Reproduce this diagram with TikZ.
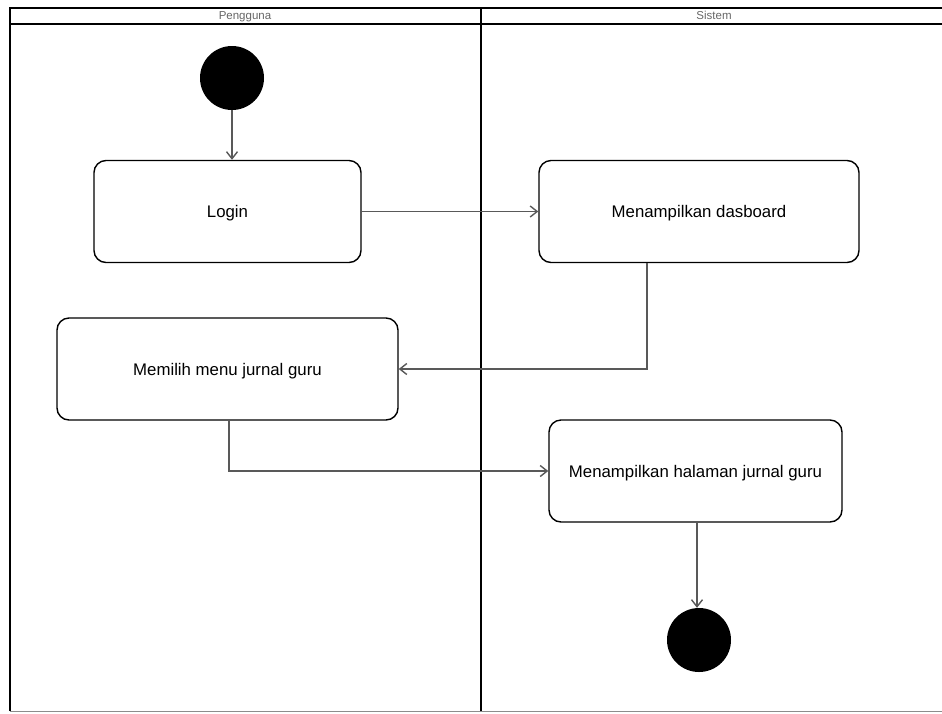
\documentclass[tikz,border=0pt]{standalone}
\usepackage{fontspec}
\setmainfont{Liberation Sans}
\usepackage{tikz}
\usetikzlibrary{arrows,arrows.meta}

\begin{document}
\begin{tikzpicture}[x=1pt,y=-1pt,
	aktivitas/.style={draw,line width=1.4pt,rounded corners=12pt,minimum width=#1,minimum height=102pt,text height=14.5pt,text depth=2pt,font=\fontsize{16.8}{19}\selectfont},
	titik/.style={circle,fill=black,minimum size=64pt,inner sep=0pt},
	lajur/.style={text=black!60,text height=8.5pt,text depth=2.5pt,font=\fontsize{11.5}{13}\selectfont},
	alur/.style={-{Straight Barb[length=7pt,width=11pt]},draw=black!65,line width=1.4pt}]
  		\useasboundingbox (0,0) rectangle (942,713);
  		% swimlane
  		\draw[line width=1.8pt] (10,711) -- (10,8) -- (942,8);
  		\draw[line width=1.8pt] (10,24) -- (942,24);
  		\draw[line width=1.8pt] (481,8) -- (481,711);
  		\draw[black!45,line width=1pt] (10,711) -- (942,711);
  		\node[lajur] (pengguna) at (245,16.5) {Pengguna};
  		\node[lajur] (sistem) at (714,16.5) {Sistem};
  		% aktivitas
  		\node[titik] (mulai) at (232,78) {};
  		\node[aktivitas=267pt] (login) at (227.5,211.5) {Login};
  		\node[aktivitas=320pt] (dasboard) at (699,211.5) {Menampilkan dasboard};
  		\node[aktivitas=341pt] (menu) at (227.5,369) {Memilih menu jurnal guru};
  		\node[aktivitas=293pt] (halaman) at (695.5,471) {Menampilkan halaman jurnal guru};
  		\node[titik] (selesai) at (699,640) {};
  		% alur
  		\draw[alur] (mulai) -- (mulai |- login.north);
  		\draw[alur] (login) -- (dasboard);
  		\draw[alur] (dasboard.south -| 647,0) |- (menu.east);
  		\draw[alur] (menu.south -| 229,0) |- (halaman.west);
  		\draw[alur] (halaman.south -| 697,0) -- (selesai.north -| 697,0);
  	\end{tikzpicture}
\end{document}
